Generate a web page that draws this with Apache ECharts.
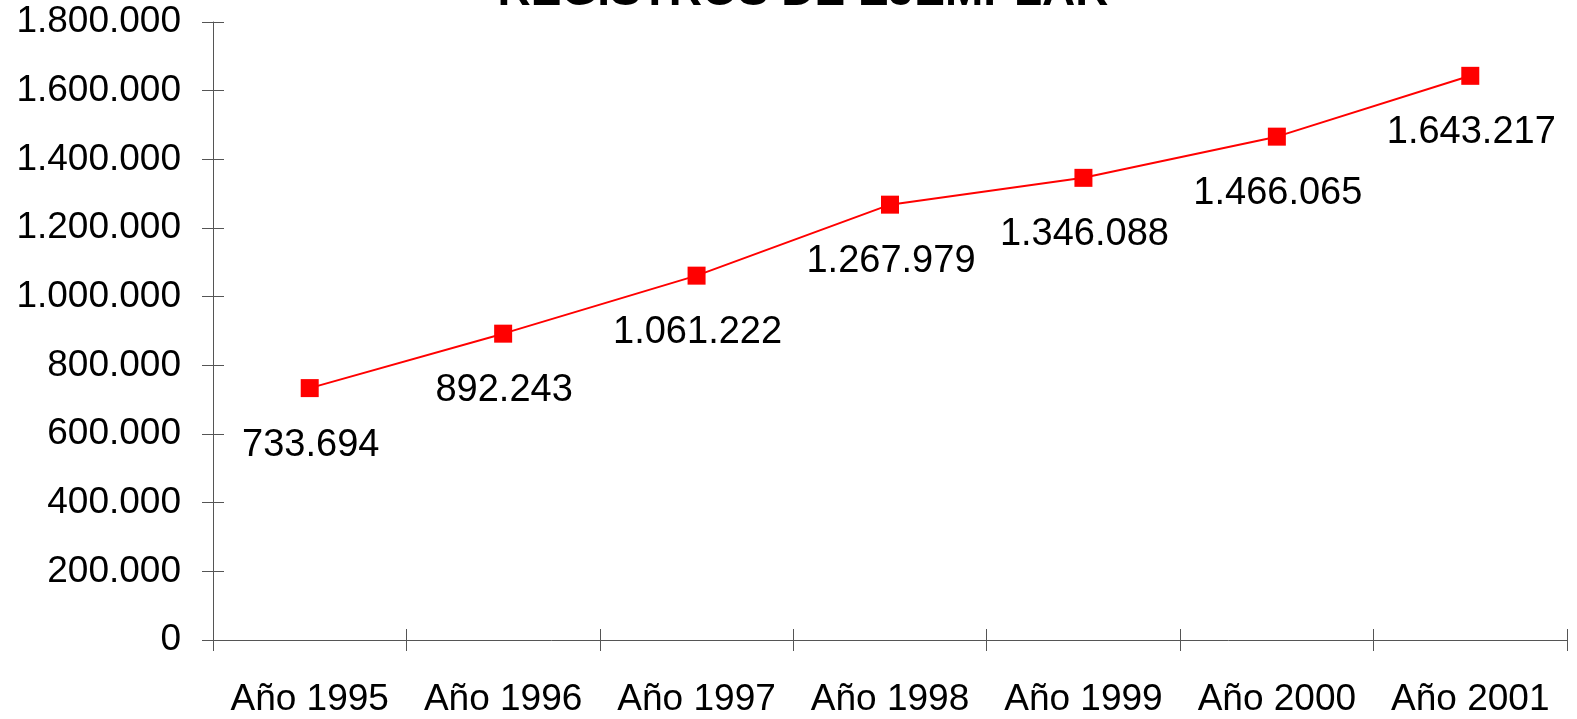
<!DOCTYPE html>
<html>
<head>
<meta charset="utf-8">
<script src="https://cdn.jsdelivr.net/npm/echarts@6/dist/echarts.min.js"></script>
<style>
  html, body { margin: 0; padding: 0; background: #fff; }
  #chart { width: 1577px; height: 719px; }
</style>
</head>
<body>
<div id="chart"></div>
<script>
// datos
const years = ['Año 1995', 'Año 1996', 'Año 1997', 'Año 1998', 'Año 1999', 'Año 2000', 'Año 2001']
const registros = [733694, 892243, 1061222, 1267979, 1346088, 1466065, 1643217]
const yMin = 0
const yMax = 1800000
const yStep = 200000

const FONT = '"Liberation Sans", Arial, sans-serif'
const AXIS_COLOR = '#555'

// separador de miles con punto
function fmt(v) {
  return String(Math.round(v)).replace(/\B(?=(\d{3})+(?!\d))/g, '.')
}

let chart = echarts.init(document.getElementById('chart'))

let option = {
  animation: false,
  backgroundColor: '#fff',
  textStyle: { fontFamily: FONT },
  title: {
    text: 'REGISTROS DE EJEMPLAR',
    left: 803,
    textAlign: 'center',
    top: -31,
    padding: 0,
    textStyle: {
      fontFamily: FONT,
      fontSize: 46,
      fontWeight: 'bold',
      color: '#000'
    }
  },
  grid: {
    left: 213,
    right: 10,
    top: 22,
    bottom: 79,
    containLabel: false
  },
  xAxis: [{
      type: 'category',
      data: years,
      boundaryGap: true,
      position: 'bottom',
      axisLine: { onZero: false, lineStyle: { color: AXIS_COLOR, width: 1 } },
      axisTick: { show: true, interval: 0, length: 11, lineStyle: { color: AXIS_COLOR } },
      axisLabel: {
        interval: 0,
        margin: 41,
        color: '#000',
        fontFamily: FONT,
        fontSize: 37
      },
      splitLine: { show: false }
    },
    {
      // solo para que las marcas crucen el eje
      type: 'category',
      data: years,
      boundaryGap: true,
      position: 'bottom',
      axisLine: { show: false, onZero: false },
      axisTick: { show: true, interval: 0, inside: true, length: 11, lineStyle: { color: AXIS_COLOR } },
      axisLabel: { show: false },
      splitLine: { show: false }
    }
  ],
  yAxis: [{
      type: 'value',
      min: yMin,
      max: yMax,
      interval: yStep,
      position: 'left',
      axisLine: { show: true, lineStyle: { color: AXIS_COLOR, width: 1 } },
      axisTick: { show: true, length: 11, lineStyle: { color: AXIS_COLOR } },
      axisLabel: {
        margin: 32,
        color: '#000',
        fontFamily: FONT,
        fontSize: 37,
        formatter: fmt
      },
      splitLine: { show: false }
    },
    {
      type: 'value',
      min: yMin,
      max: yMax,
      interval: yStep,
      position: 'left',
      axisLine: { show: false },
      axisTick: { show: true, inside: true, length: 11, lineStyle: { color: AXIS_COLOR } },
      axisLabel: { show: false },
      splitLine: { show: false }
    }
  ],
  series: [{
    type: 'line',
    data: registros,
    xAxisIndex: 0,
    yAxisIndex: 0,
    symbol: 'rect',
    symbolSize: 18,
    lineStyle: { color: '#ff0000', width: 2 },
    itemStyle: { color: '#ff0000' },
    label: {
      show: true,
      position: 'bottom',
      distance: 29,
      offset: [1, 0],
      color: '#000',
      fontFamily: FONT,
      fontSize: 38,
      formatter: p => fmt(p.value)
    }
  }]
}

chart.setOption(option)
window.onresize = function () {
  chart.resize()
}
</script>
</body>
</html>
